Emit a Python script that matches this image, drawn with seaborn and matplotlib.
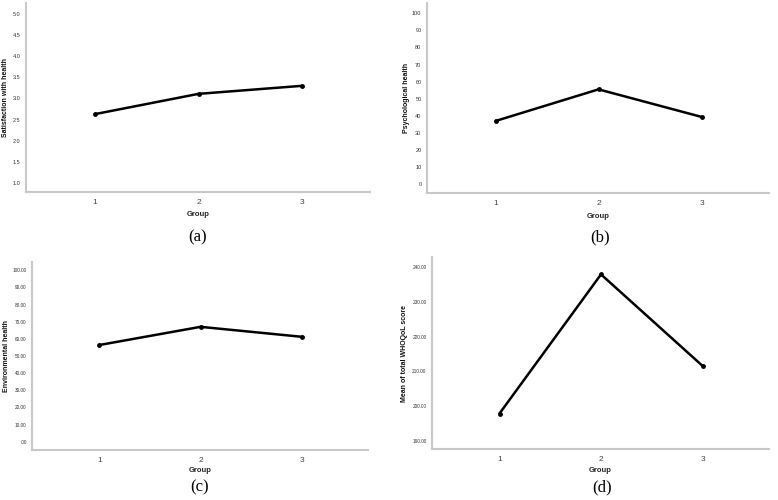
import matplotlib
matplotlib.use("Agg")
import matplotlib.pyplot as plt
import seaborn as sns
import pandas as pd

sns.set_theme(style="white")
plt.rcParams['font.family'] = ['Liberation Sans', 'DejaVu Sans']

groups = [1, 2, 3]
satisfaction = [2.63, 3.11, 3.30]
psychological = [37.0, 55.5, 39.4]
environmental = [56.4, 67.0, 61.2]
whoqol_total = [197.9, 237.9, 211.6]

ylabels = ["Satisfaction with health", "Psychological health",
           "Environmental health", "Mean of total WHOQoL score"]
captions = ["(a)", "(b)", "(c)", "(d)"]

yticks_a = [1.0, 1.5, 2.0, 2.5, 3.0, 3.5, 4.0, 4.5, 5.0]
ytick_labels_a = ["1.0", "1.5", "2.0", "2.5", "3.0", "3.5", "4.0", "4.5", "5.0"]
yticks_b = [0, 10, 20, 30, 40, 50, 60, 70, 80, 90, 100]
ytick_labels_b = ["0", "10", "20", "30", "40", "50", "60", "70", "80", "90", "100"]
yticks_c = [0, 10, 20, 30, 40, 50, 60, 70, 80, 90, 100]
ytick_labels_c = [".00", "10.00", "20.00", "30.00", "40.00", "50.00", "60.00",
                  "70.00", "80.00", "90.00", "100.00"]
yticks_d = [190, 200, 210, 220, 230, 240]
ytick_labels_d = ["190.00", "200.00", "210.00", "220.00", "230.00", "240.00"]

W, H = 778, 500
fig = plt.figure(figsize=(W / 100, H / 100), dpi=100)

# pixel boxes: left, right, top, bottom
boxes = [(26, 370, 3, 192), (427, 769, 3, 193), (32, 368, 262, 450), (432, 769, 257, 449)]
ylims = [(0.787, 5.26), (-5.1, 106), (-4.8, 104.8), (187.7, 242.9)]
series = [satisfaction, psychological, environmental, whoqol_total]
yticks = [yticks_a, yticks_b, yticks_c, yticks_d]
yticklabels = [ytick_labels_a, ytick_labels_b, ytick_labels_c, ytick_labels_d]
ytick_size = [4.0, 4.0, 3.4, 3.4]
caption_pos = [(198, 237), (600, 237), (200, 487), (602, 487)]
ylabel_x = [6, 406, 7, 404]
xlabel_y = [214, 216, 471, 470]

for i in range(4):
    l, r, t, b = boxes[i]
    w, h = r - l, b - t
    ax = fig.add_axes([l / W, 1 - b / H, w / W, h / H])
    df = pd.DataFrame({"Group": groups, "value": series[i]})
    sns.lineplot(data=df, x="Group", y="value", ax=ax, color="black",
                 linewidth=1.8, marker="o", markersize=3.5, markeredgewidth=0)
    ax.set_xlim(0.335, 3.655)
    ax.set_ylim(*ylims[i])
    ax.set_xticks(groups)
    ax.set_xticklabels([str(g) for g in groups], fontsize=6, color="#444444")
    ax.set_yticks(yticks[i])
    ax.set_yticklabels(yticklabels[i], fontsize=ytick_size[i], color="#333333")
    ax.tick_params(axis="x", length=0, pad=5)
    ax.tick_params(axis="y", length=0, pad=4)
    ax.set_xlabel("Group", fontsize=5.5, fontweight="bold", color="#222222")
    ax.set_ylabel(ylabels[i], fontsize=5.0, fontweight="bold", color="#111111")
    ax.yaxis.set_label_coords((ylabel_x[i] - l) / w, 0.5)
    ax.xaxis.set_label_coords(0.5, (b - xlabel_y[i]) / h)
    ax.xaxis.label.set_va("center")
    ax.yaxis.label.set_va("center")
    for s in ["top", "right"]:
        ax.spines[s].set_visible(False)
    for s in ["left", "bottom"]:
        ax.spines[s].set_color("#c8c8c8")
        ax.spines[s].set_linewidth(1.5)
    ax.set_facecolor("white")
    cx, cy = caption_pos[i]
    fig.text(cx / W, 1 - cy / H, captions[i], ha="center", va="center",
             fontsize=12, family="Liberation Serif", color="black")

fig.savefig("out.png", dpi=100, facecolor="white")
